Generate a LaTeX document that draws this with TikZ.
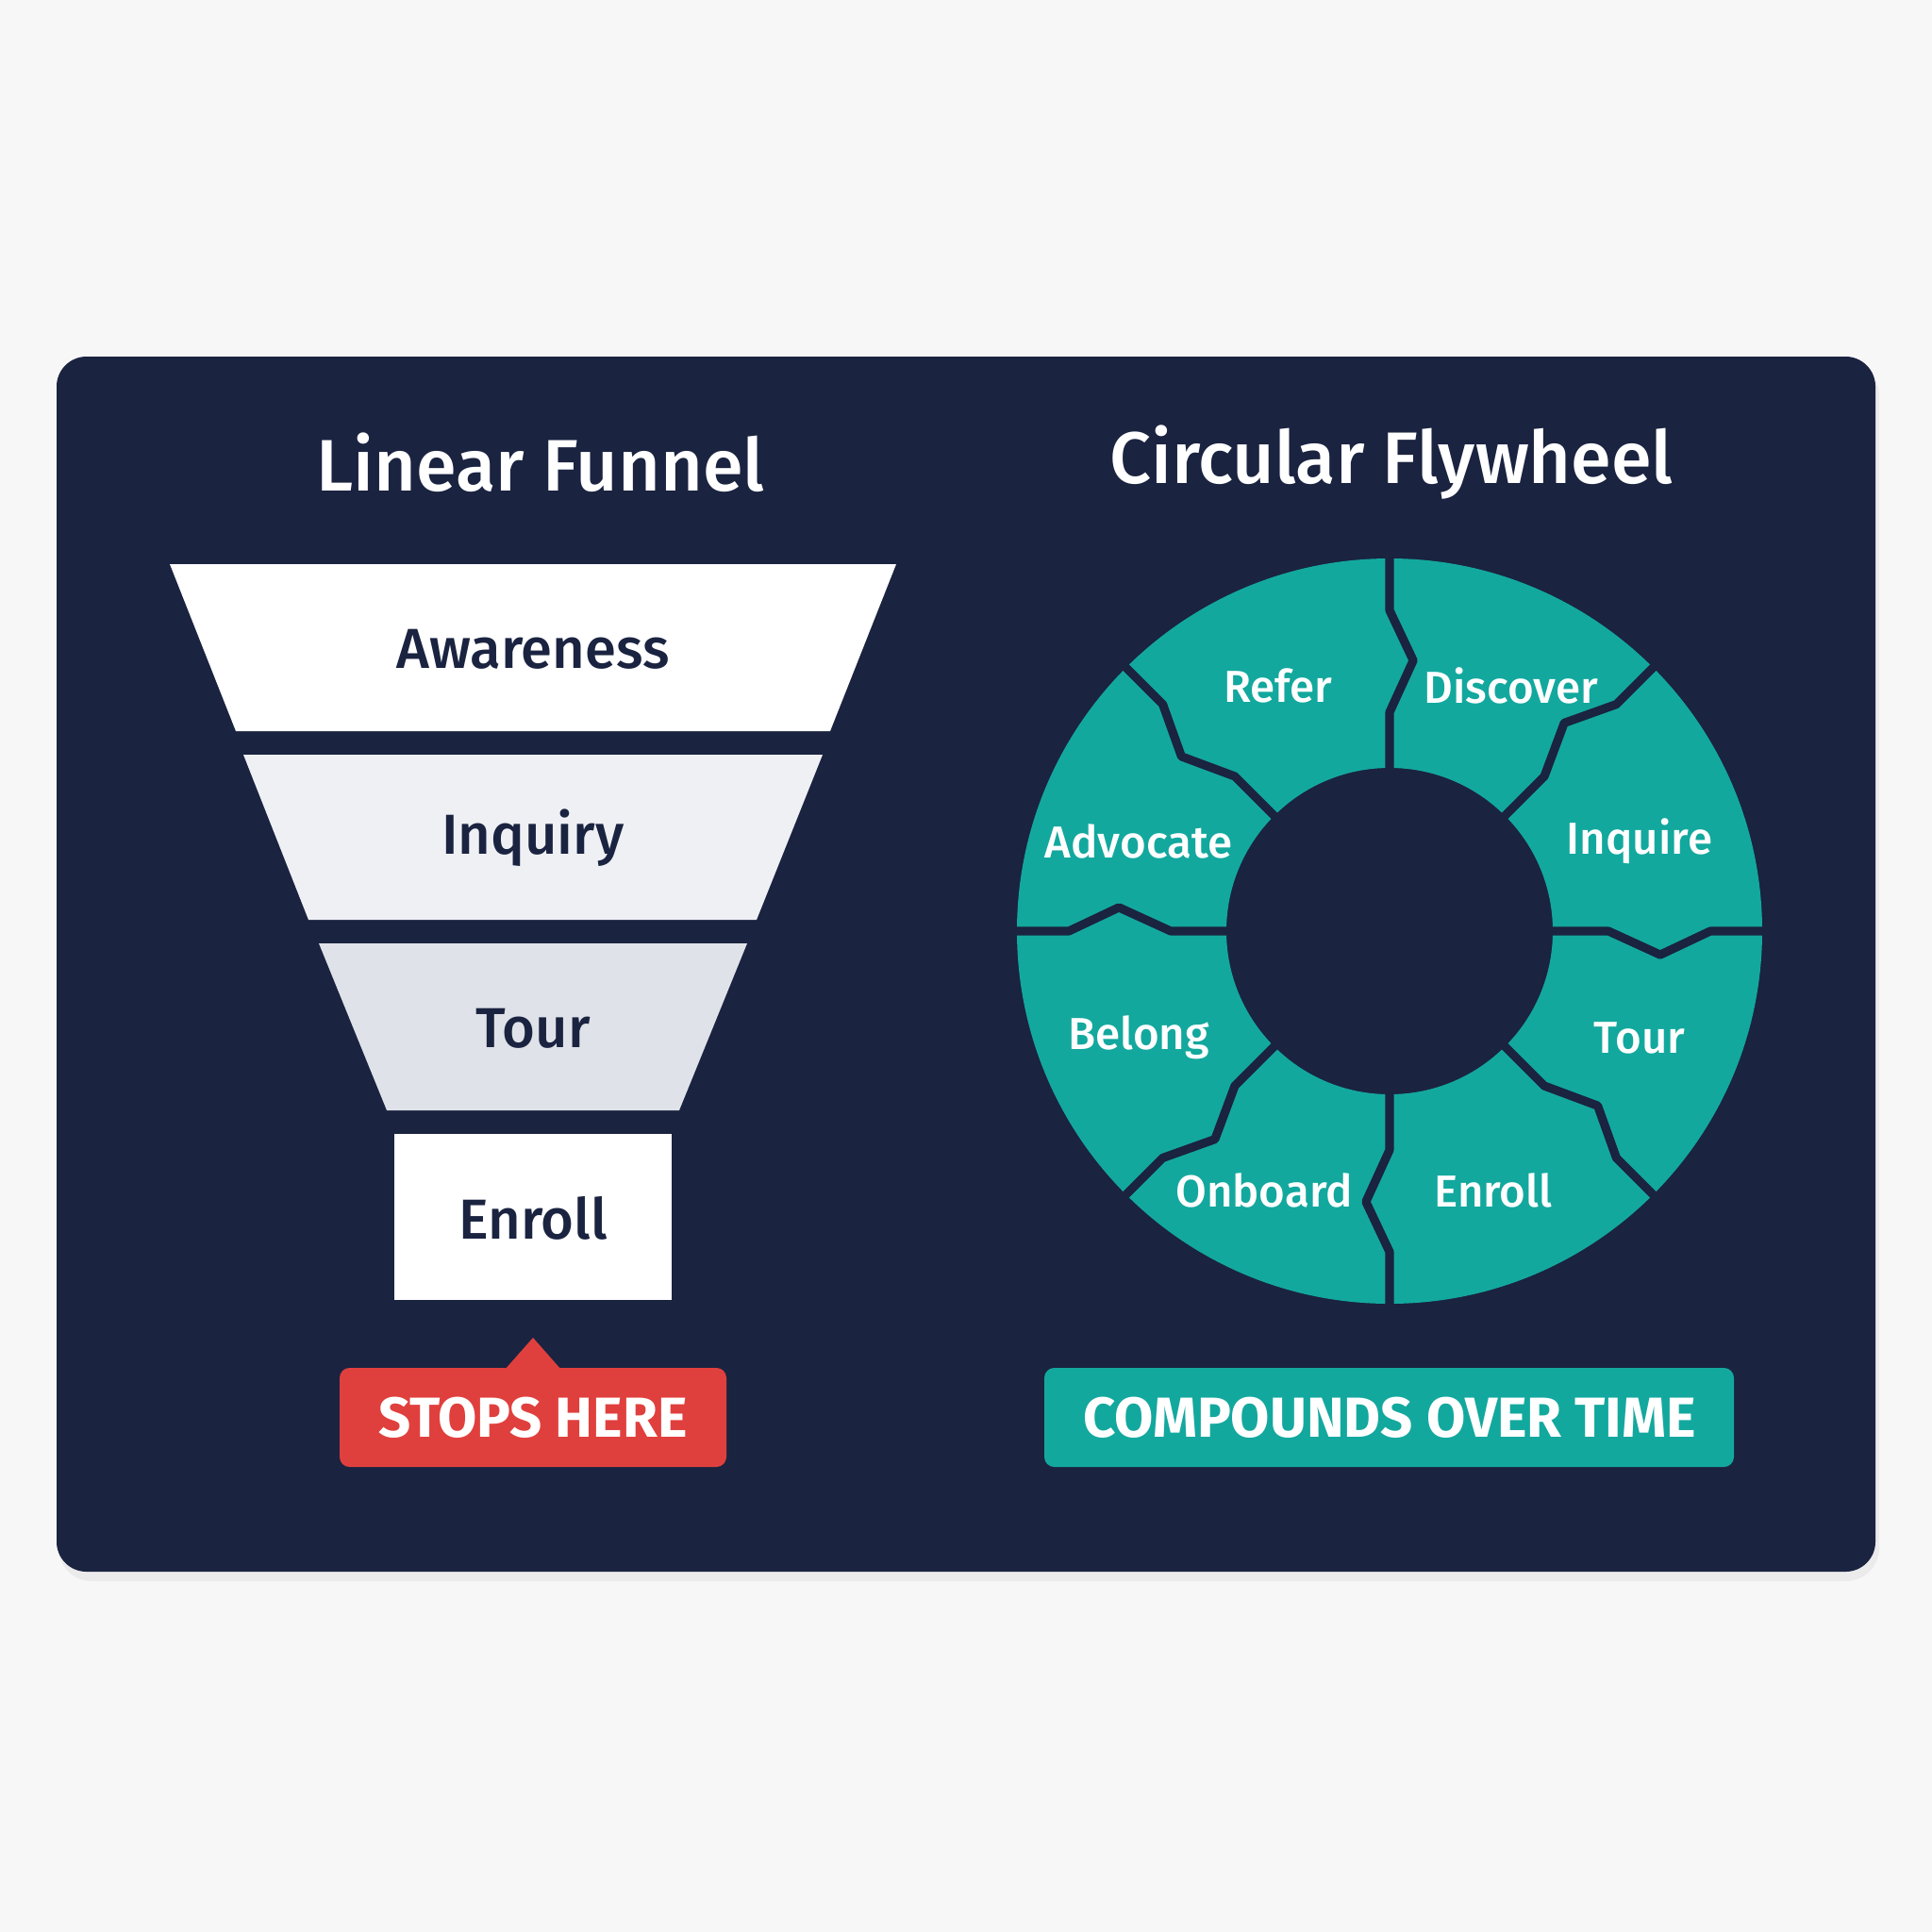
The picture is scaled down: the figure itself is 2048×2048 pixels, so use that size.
\documentclass[tikz,border=0pt]{standalone}
\usepackage{fontspec}
\setmainfont{Fira Sans}[UprightFont=* Medium, BoldFont=* Bold]
\usetikzlibrary{positioning,calc}
\definecolor{navy}{HTML}{1A2340}
\definecolor{teal}{HTML}{13A89E}
\definecolor{stopred}{HTML}{E0403D}
\definecolor{paper}{HTML}{F7F7F8}
\definecolor{tierB}{HTML}{EEF0F4}
\definecolor{tierC}{HTML}{DFE2E8}
\tikzset{
  title/.style={text=white, font=\fontsize{22}{26}\selectfont},
  stage/.style={text=navy, font=\fontsize{17}{20}\selectfont},
  spoke/.style={text=white, font=\fontsize{13.5}{17}\selectfont},
  badge/.style={text=white, font=\bfseries\fontsize{17}{20}\selectfont},
  divider/.style={draw=navy, line width=2.6pt, line join=round},
}
\begin{document}
\begin{tikzpicture}[x=0.01cm, y=-0.01cm]
  \useasboundingbox (0,0) rectangle (2048,2048);
  \fill[paper] (0,0) rectangle (2048,2048);
  %panel
  \fill[black!8, rounded corners=10pt] (62,384) rectangle (1992,1676);
  \fill[navy, rounded corners=9pt] (60,378) rectangle (1988,1666);

  \node[title] (tfunnel) at (573,490) {Linear Funnel};
  \node[title] (twheel) at (1475,490) {Circular Flywheel};

  %funnel tiers
  \fill[white] (180,598) -- (950,598) -- (880,775) -- (250,775) -- cycle;
  \fill[tierB] (258,800) -- (872,800) -- (802,975) -- (327,975) -- cycle;
  \fill[tierC] (338,1000) -- (792,1000) -- (720,1177) -- (410,1177) -- cycle;
  \fill[white] (418,1202) rectangle (712,1378);
  \node[stage] (aware) at (565,688) {Awareness};
  \node[stage] (inq) at (565,888) {Inquiry};
  \node[stage] (tour) at (565,1090) {Tour};
  \node[stage] (enr) at (565,1291) {Enroll};

  %badges
  \fill[stopred] (535,1452) -- (565,1418) -- (595,1452) -- cycle;
  \fill[stopred, rounded corners=3pt] (360,1450) rectangle (770,1555);
  \node[badge] (stop) at (565,1503) {STOPS HERE};
  \fill[teal, rounded corners=3pt] (1107,1450) rectangle (1838,1555);
  \node[badge] (comp) at (1473,1503) {COMPOUNDS OVER TIME};

  %flywheel ring
  \coordinate (hub) at (1473,987);
  \fill[teal, even odd rule] (hub) circle (395) (hub) circle (173);
  \foreach \a/\s in {0/1,45/-1,90/1,135/-1,180/1,225/-1,270/1,315/-1}
    \draw[divider] ($(hub)+(\a:170)$) -- ($(hub)+(\a:232)$)
      -- ($(hub)+(\a+5*\s:288)$) -- ($(hub)+(\a:340)$) -- ($(hub)+(\a:398)$);

  \node[spoke] (refer) at (1355,727) {Refer};
  \node[spoke] (disc) at (1602,727) {Discover};
  \node[spoke] (inqr) at (1738,892) {Inquire};
  \node[spoke] (tourw) at (1738,1100) {Tour};
  \node[spoke] (enrw) at (1583,1262) {Enroll};
  \node[spoke] (onb) at (1340,1262) {Onboard};
  \node[spoke] (bel) at (1207,1100) {Belong};
  \node[spoke] (adv) at (1207,892) {Advocate};
\end{tikzpicture}
\end{document}
